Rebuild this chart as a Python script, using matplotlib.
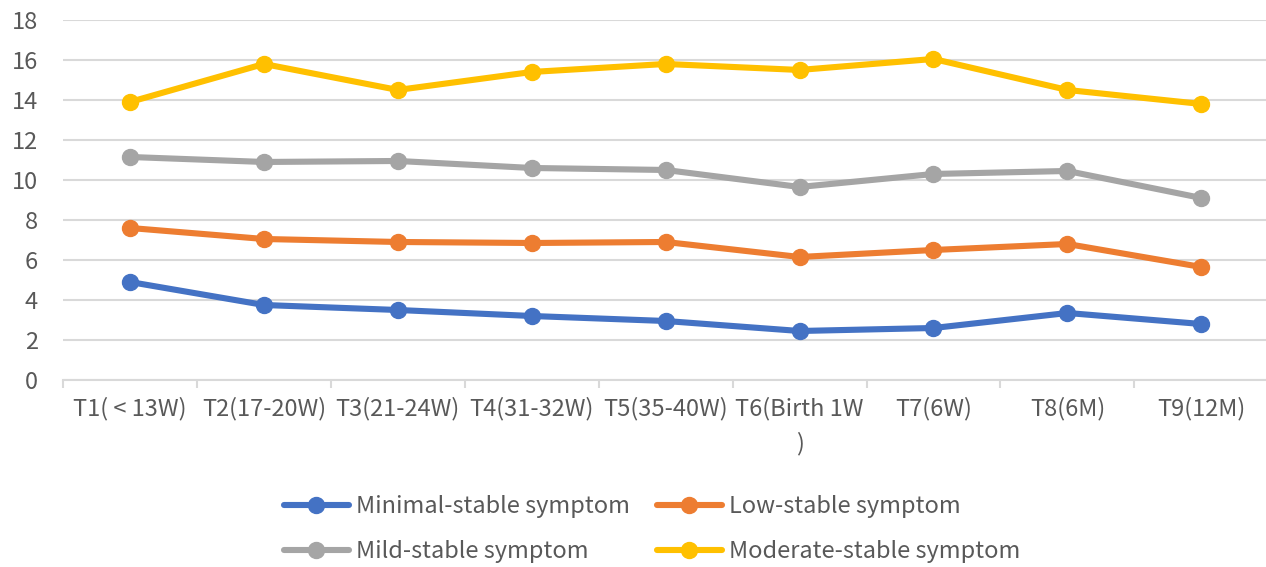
import numpy as np
import matplotlib.pyplot as plt

plt.rcParams['font.family'] = ['Noto Sans CJK SC', 'DejaVu Sans']

labels = ["T1( < 13W)", "T2(17-20W)", "T3(21-24W)", "T4(31-32W)", "T5(35-40W)",
          "T6(Birth 1W\n)", "T7(6W)", "T8(6M)", "T9(12M)"]
minimal = [4.9, 3.75, 3.5, 3.2, 2.95, 2.45, 2.6, 3.35, 2.8]
low = [7.6, 7.05, 6.9, 6.85, 6.9, 6.15, 6.5, 6.8, 5.65]
mild = [11.15, 10.9, 10.95, 10.6, 10.5, 9.65, 10.3, 10.45, 9.1]
moderate = [13.9, 15.8, 14.5, 15.4, 15.8, 15.5, 16.05, 14.5, 13.8]

series = [("Minimal-stable symptom", minimal, "#4472C4"),
          ("Low-stable symptom", low, "#ED7D31"),
          ("Mild-stable symptom", mild, "#A5A5A5"),
          ("Moderate-stable symptom", moderate, "#FFC000")]

fig = plt.figure(figsize=(12.66, 5.67), dpi=100)
ax = fig.add_axes([0.0498, 0.3298, 0.952, 0.635])

x = np.arange(len(labels))
handles = []
for name, vals, col in series:
    h, = ax.plot(x, vals, color=col, lw=4.4, marker='o', ms=11.5, label=name,
                 solid_capstyle='round', zorder=3)
    handles.append(h)

ax.set_xlim(-0.5, len(labels) - 0.5)
ax.set_ylim(0, 18)
ax.set_yticks(range(0, 19, 2))
ax.yaxis.grid(True, color='#d9d9d9', lw=1.5)
ax.set_axisbelow(True)
for s in ['top', 'right', 'left']:
    ax.spines[s].set_visible(False)
ax.spines['bottom'].set_color('#d9d9d9')
ax.spines['bottom'].set_linewidth(1.5)

ax.set_xticks(x)
ax.set_xticklabels(labels, va='top', linespacing=1.6)
ax.set_xticks(np.arange(-0.5, len(labels)), minor=True)
ax.tick_params(axis='x', which='major', length=0, pad=12, labelsize=17, labelcolor='#595959')
ax.tick_params(axis='x', which='minor', length=6, color='#d9d9d9', width=1.5)
ax.tick_params(axis='y', length=0, pad=18, labelsize=17, labelcolor='#595959')

# legend fills by column, so order handles to get Minimal/Low on the first row
order = [0, 2, 1, 3]
fig.legend([handles[i] for i in order], [series[i][0] for i in order],
           loc='center', bbox_to_anchor=(0.515, 0.067), ncol=2, frameon=False,
           fontsize=17, labelcolor='#595959', handlelength=2.75, handletextpad=0.3,
           columnspacing=1.15, labelspacing=0.95)

fig.savefig('out.png', dpi=100)
